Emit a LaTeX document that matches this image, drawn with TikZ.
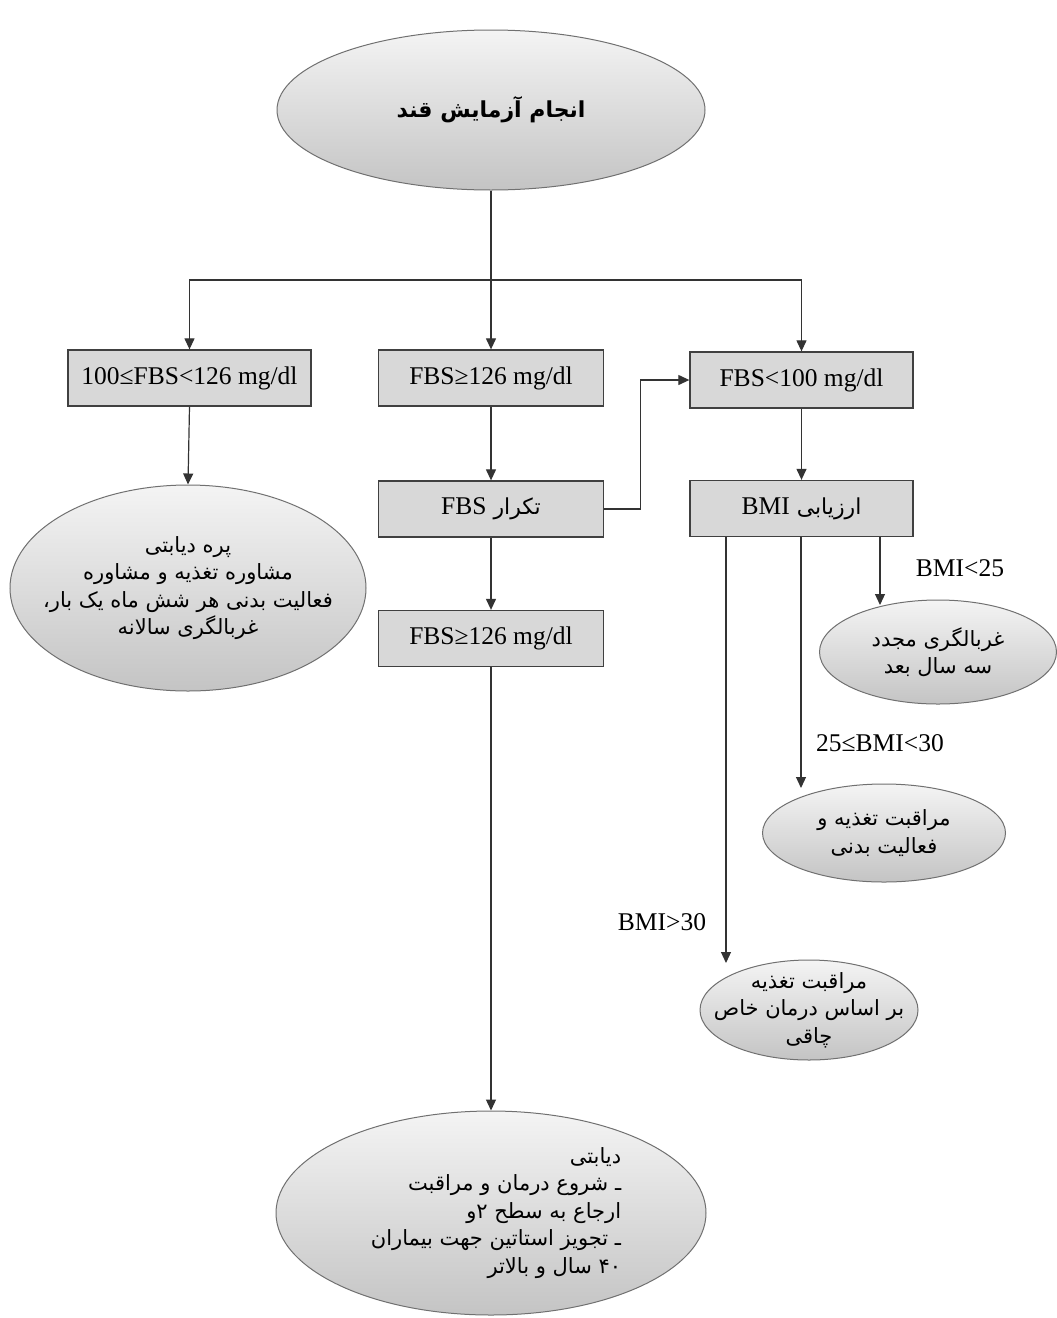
\documentclass[tikz,border=0pt]{standalone}
\usepackage{fontspec}
\setmainfont{Liberation Serif}
\newfontfamily\arabicfont[Script=Arabic]{DejaVu Sans}
\newfontfamily\latinfont{Liberation Serif}
\TeXXeTstate=1
\usetikzlibrary{shapes.geometric,arrows.meta}
\newcommand{\fa}[1]{\beginR #1\endR}
\newcommand{\la}[1]{\beginL{\latinfont #1}\endL}
\newcommand{\nm}[1]{\beginL #1\endL}
\definecolor{boxfill}{HTML}{D8D8D8}
\definecolor{boxline}{HTML}{404040}
\definecolor{elltop}{HTML}{F4F4F4}
\definecolor{ellbot}{HTML}{C4C4C4}
\definecolor{elline}{HTML}{707070}
\begin{document}
\begin{tikzpicture}[x=1pt,y=-1pt,
  stepbox/.style={draw=boxline,line width=1.3pt,fill=boxfill,rectangle,inner sep=0pt,
    minimum width=#1,minimum height=56pt,font=\fontsize{25.5}{28}\selectfont},
  stepbox/.default=225pt,
  oval/.style={ellipse,draw=elline,line width=1pt,top color=elltop,bottom color=ellbot,
    inner sep=0pt},
  otext/.style={inner sep=0pt,align=center,font=\arabicfont\fontsize{21}{27.5}\selectfont},
  arr/.style={-{Triangle[length=11pt,width=10pt]},line width=1.2pt,draw=black!80},
  ln/.style={line width=1.2pt,draw=black!80},
  lbl/.style={font=\fontsize{25.5}{28}\selectfont,inner sep=0pt}]
\useasboundingbox (0,0) rectangle (1057,1318);
\fill[white] (0,0) rectangle (1057,1318);

% ellipses
\node[oval,minimum width=428pt,minimum height=160pt] (top) at (491,110) {};
\node[otext,font=\arabicfont\bfseries\fontsize{22}{24}\selectfont] (topt) at (top.center) {\fa{انجام آزمایش قند}};
\node[oval,minimum width=356pt,minimum height=206pt] (pre) at (188,588) {};
\node[otext] (pret) at (pre.center)
  {\fa{پره دیابتی}\\\fa{مشاوره تغذیه و مشاوره}\\\fa{فعالیت بدنی هر شش ماه یک بار،}\\\fa{غربالگری سالانه}};
\node[oval,minimum width=237pt,minimum height=104pt] (e1) at (938,652) {};
\node[otext] (e1t) at (e1.center) {\fa{غربالگری مجدد}\\\fa{سه سال بعد}};
\node[oval,minimum width=243pt,minimum height=98pt] (e2) at (884,833) {};
\node[otext] (e2t) at (e2.center) {\fa{مراقبت تغذیه و}\\\fa{فعالیت بدنی}};
\node[oval,minimum width=218pt,minimum height=100pt] (e3) at (809,1010) {};
\node[otext] (e3t) at (e3.center) {\fa{مراقبت تغذیه}\\\fa{بر اساس درمان خاص}\\\fa{چاقی}};
\node[oval,minimum width=430pt,minimum height=204pt] (dia) at (491,1213) {};
\node[otext,align=right] (diat) at ([xshift=5pt]dia.center)
  {\fa{دیابتی}\\\fa{ـ شروع درمان و مراقبت}\\\fa{ارجاع به سطح ۲و}\\\fa{ـ تجویز استاتین جهت بیماران}\\\fa{\nm{۴۰} سال و بالاتر}};

% boxes
\node[stepbox=243pt] (b1) at (189.5,378) {100≤FBS<126 mg/dl};
\node[stepbox] (b2) at (491,378) {FBS≥126 mg/dl};
\node[stepbox=223pt] (b3) at (801.5,380) {FBS<100 mg/dl};
\node[stepbox] (b4) at (491,509) {\arabicfont\fontsize{22}{26}\selectfont\fa{تکرار \la{\fontsize{25.5}{28}\selectfont FBS}}};
\node[stepbox] (b5) at (491,638.5) {FBS≥126 mg/dl};
\node[stepbox=223pt] (bmi) at (801.5,508.5) {\arabicfont\fontsize{22}{26}\selectfont\fa{ارزیابی \la{\fontsize{25.5}{28}\selectfont BMI}}};

% labels
\node[lbl] (l1) at (960,568) {BMI<25};
\node[lbl] (l2) at (880,743) {25≤BMI<30};
\node[lbl] (l3) at (662,922) {BMI>30};

% connectors
\coordinate (j) at (491,280);
\draw[ln] (top.south) -- (j);
\draw[arr] (j) -| (b1.north);
\draw[arr] (j) -- (b2.north);
\draw[arr] (j) -| (b3.north);
\draw[arr] (b1.south) -- (pre.north);
\draw[arr] (b2.south) -- (b4.north);
\draw[arr] (b4.south) -- (b5.north);
\draw[arr] (b5.south) -- (dia.north);
\draw[arr] (b4.east) -- ++(36,0) |- (b3.west);
\draw[arr] (b3.south) -- (bmi.north);
\coordinate (c1) at (880,605);
\coordinate (c2) at (801,788);
\coordinate (c3) at (726,963);
\draw[arr] (bmi.south -| c1) -- (c1);
\draw[arr] (bmi.south -| c2) -- (c2);
\draw[arr] (bmi.south -| c3) -- (c3);
\end{tikzpicture}
\end{document}
